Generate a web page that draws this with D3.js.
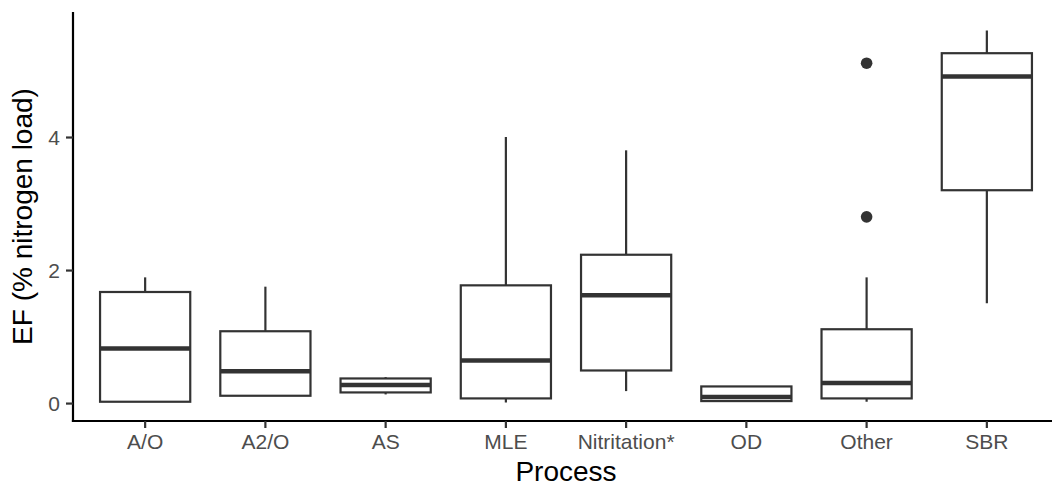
<!DOCTYPE html>
<html>
<head>
<meta charset="utf-8">
<script src="https://cdn.jsdelivr.net/npm/d3@7"></script>
<style>
  html, body { margin: 0; padding: 0; background: #fff; }
  svg { display: block; }
</style>
</head>
<body>
<svg id="chart" width="1052" height="488"></svg>
<script>
// Emission factor box plots by treatment process
const processes = ["A/O", "A2/O", "AS", "MLE", "Nitritation*", "OD", "Other", "SBR"];
const whiskerLow  = [0.02, 0.11, 0.13, 0.01, 0.18, 0.03, 0.02, 1.50];
const quartile1   = [0.02, 0.11, 0.16, 0.07, 0.49, 0.03, 0.07, 3.20];
const medians     = [0.82, 0.48, 0.27, 0.64, 1.62, 0.09, 0.30, 4.91];
const quartile3   = [1.67, 1.08, 0.37, 1.77, 2.23, 0.25, 1.11, 5.26];
const whiskerHigh = [1.89, 1.75, 0.39, 4.00, 3.80, 0.25, 1.89, 5.60];
const outliers    = [[], [], [], [], [], [], [5.11, 2.80], []];
const yTicks = [0, 2, 4];

const boxes = processes.map((p, i) => ({
  p, lo: whiskerLow[i], q1: quartile1[i], med: medians[i],
  q3: quartile3[i], hi: whiskerHigh[i], out: outliers[i]
}));

const svg = d3.select("#chart");
const margin = { left: 73, top: 12, bottom: 421 };
const plotRight = 1059;   // panel runs slightly past the visible canvas

// data extent with 5% padding on each side
const allVals = boxes.flatMap(b => [b.lo, b.hi, ...b.out]);
const yMin = d3.min(allVals), yMax = d3.max(allVals);
const pad = (yMax - yMin) * 0.05;
const y = d3.scaleLinear().domain([yMin - pad, yMax + pad]).range([margin.bottom, margin.top]);

// discrete x positions: 0.6 category of padding on both ends
const x = d3.scalePoint().domain(processes);
const step = (plotRight - margin.left) / (processes.length - 1 + 1.2);
x.range([margin.left + 0.6 * step, plotRight - 0.6 * step]);
const boxW = step * 0.75;

const ink = "#333333";
const g = svg.append("g");

// whiskers
g.selectAll(".whisker").data(boxes).join("line")
  .attr("x1", d => x(d.p)).attr("x2", d => x(d.p))
  .attr("y1", d => y(d.hi)).attr("y2", d => y(d.lo))
  .attr("stroke", ink).attr("stroke-width", 2.2);

// boxes
g.selectAll(".box").data(boxes).join("rect")
  .attr("x", d => x(d.p) - boxW / 2).attr("width", boxW)
  .attr("y", d => y(d.q3)).attr("height", d => Math.max(0, y(d.q1) - y(d.q3)))
  .attr("fill", "#fff").attr("stroke", ink).attr("stroke-width", 2.2);

// medians
g.selectAll(".median").data(boxes).join("line")
  .attr("x1", d => x(d.p) - boxW / 2).attr("x2", d => x(d.p) + boxW / 2)
  .attr("y1", d => y(d.med)).attr("y2", d => y(d.med))
  .attr("stroke", ink).attr("stroke-width", 4.5);

// outliers
g.selectAll(".outlier").data(boxes.flatMap(b => b.out.map(v => ({ p: b.p, v }))))
  .join("circle")
  .attr("cx", d => x(d.p)).attr("cy", d => y(d.v)).attr("r", 5.8)
  .attr("fill", ink);

// axes
const font = "'Liberation Sans', Arial, sans-serif";
const yAxis = svg.append("g").attr("transform", `translate(${margin.left},0)`)
  .call(d3.axisLeft(y).tickValues(yTicks).tickFormat(d3.format("d")).tickSize(7).tickPadding(6));
yAxis.select(".domain").attr("stroke", "#000").attr("stroke-width", 2.2)
  .attr("d", `M0,${margin.top}V${margin.bottom + 1}`);
yAxis.selectAll(".tick line").attr("stroke", ink).attr("stroke-width", 2.2);
yAxis.selectAll(".tick text").attr("fill", "#4d4d4d")
  .style("font-family", font).style("font-size", "21px").attr("dy", "0.36em");

const xAxis = svg.append("g").attr("transform", `translate(0,${margin.bottom})`);
xAxis.append("line").attr("x1", margin.left - 1.1).attr("x2", plotRight)
  .attr("stroke", "#000").attr("stroke-width", 2.2);
xAxis.selectAll(".xtick").data(processes).join("g")
  .attr("transform", d => `translate(${x(d)},0)`)
  .each(function (d) {
    const t = d3.select(this);
    t.append("line").attr("y2", 7).attr("stroke", ink).attr("stroke-width", 2.2);
    t.append("text").attr("y", 28).attr("text-anchor", "middle")
      .attr("fill", "#4d4d4d").style("font-family", font).style("font-size", "21px").text(d);
  });

// axis titles
svg.append("text").attr("x", (margin.left + plotRight) / 2).attr("y", 481)
  .attr("text-anchor", "middle").style("font-family", font).style("font-size", "28px")
  .attr("fill", "#000").text("Process");
svg.append("text")
  .attr("transform", `translate(32,${(margin.top + margin.bottom) / 2}) rotate(-90)`)
  .attr("text-anchor", "middle").style("font-family", font).style("font-size", "28px")
  .attr("fill", "#000").text("EF (% nitrogen load)");
</script>
</body>
</html>
